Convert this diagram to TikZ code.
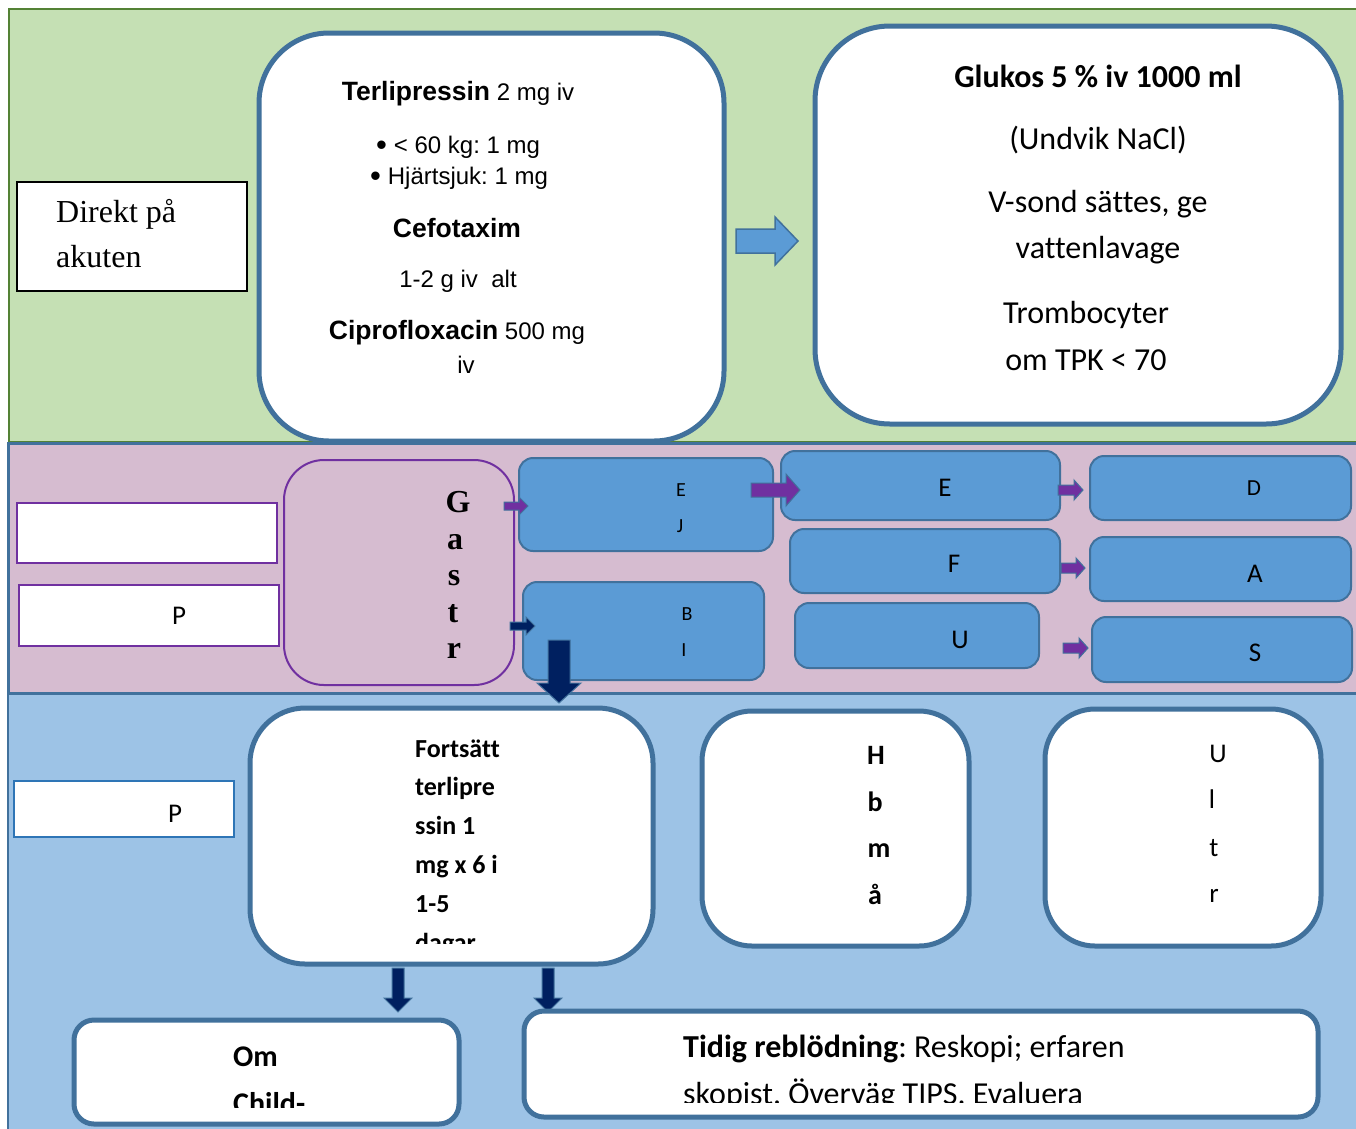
\documentclass[tikz,border=0pt]{standalone}
\usepackage{fontspec}
\setmainfont{Carlito}[Ligatures=NoCommon]
\newfontfamily\arialf{Liberation Sans}
\newfontfamily\tnrf{Liberation Serif}
\definecolor{bandgreen}{RGB}{197,224,180}
\definecolor{greenline}{RGB}{84,130,53}
\definecolor{bandpink}{RGB}{214,188,208}
\definecolor{bandblue}{RGB}{157,195,230}
\definecolor{boxblue}{RGB}{91,155,213}
\definecolor{edgeblue}{RGB}{65,113,156}
\definecolor{purp}{RGB}{112,48,160}
\definecolor{navy}{RGB}{0,32,96}
\definecolor{midblue}{RGB}{46,117,182}
\newcommand{\RArr}[7]{\filldraw[#7] (#1,{#3-#4}) -- ({#2-#6},{#3-#4}) -- ({#2-#6},{#3-#5}) -- (#2,#3) -- ({#2-#6},{#3+#5}) -- ({#2-#6},{#3+#4}) -- (#1,{#3+#4}) -- cycle;}
\newcommand{\DArr}[7]{\filldraw[#7] ({#1-#4},#2) -- ({#1-#4},{#3-#6}) -- ({#1-#5},{#3-#6}) -- (#1,#3) -- ({#1+#5},{#3-#6}) -- ({#1+#4},{#3-#6}) -- ({#1+#4},#2) -- cycle;}
\newcommand{\bA}{\bfseries\fontsize{26.5}{30}\selectfont}
\newcommand{\rA}{\mdseries\fontsize{24}{28}\selectfont}
\newcommand{\bigbul}{\raisebox{-2.5pt}{\fontsize{31}{28}\selectfont •}\hspace*{7pt}}
\tikzset{
  bigbox/.style={draw=edgeblue, line width=5pt, fill=white, rounded corners=#1, inner sep=0pt},
  bluebox/.style={draw=edgeblue, line width=2pt, fill=boxblue, rounded corners=14pt, inner sep=0pt},
  whitebox/.style={draw=purp, line width=2pt, fill=white, inner sep=0pt},
  tA/.style={font=\arialf\fontsize{24}{28}\selectfont, anchor=base, inner sep=0pt},
  tC/.style={font=\fontsize{32}{36}\selectfont, anchor=base, inner sep=0pt},
  tS/.style={font=\fontsize{27}{30}\selectfont, anchor=base, inner sep=0pt},
  tSs/.style={font=\fontsize{20}{22}\selectfont, anchor=base, inner sep=0pt},
  tB/.style={font=\bfseries\fontsize{26}{28}\selectfont, anchor=base west, inner sep=0pt},
  tH/.style={font=\bfseries\fontsize{28}{30}\selectfont, anchor=base, inner sep=0pt},
  tT/.style={font=\tnrf\fontsize{32}{34}\selectfont, anchor=base west, inner sep=0pt},
  tG/.style={font=\tnrf\bfseries\fontsize{32}{34}\selectfont, anchor=base, inner sep=0pt},
  purarrow/.style={fill=purp, draw=edgeblue, line width=1pt},
  navarrow/.style={fill=navy, draw=edgeblue, line width=1pt},
  bluearrow/.style={fill=boxblue, draw=edgeblue, line width=1.5pt}
}
\begin{document}
\frenchspacing
\begin{tikzpicture}[x=1pt,y=-1pt]
\useasboundingbox (0,0) rectangle (1356,1128);
% bands
\filldraw[fill=bandblue, draw=edgeblue, line width=2pt] (8,693) rectangle (1362,1134);
\filldraw[fill=bandpink, draw=edgeblue, line width=3pt] (8,443) rectangle (1362,693);
\filldraw[fill=bandgreen, draw=greenline, line width=2.5pt] (9,9) rectangle (1362,442);
\draw[edgeblue, line width=3pt] (8,443) -- (1362,443);

% ---------- top band
\node[draw=black, line width=2pt, fill=white, minimum width=230pt, minimum height=109pt] (direkt) at (132,236.5) {};
\node[tT] (direkt1) at (56,222) {Direkt på};
\node[tT] (direkt2) at (56,267) {akuten};

\node[bigbox=70pt, minimum width=465pt, minimum height=408pt] (terl) at (491.5,237) {};
\node[tA] (t1) at (458,100) {\bA Terlipressin\rA{} 2 mg iv};
\node[tA] (t2) at (458,153) {\bigbul{}< 60 kg: 1 mg};
\node[tA] (t3) at (459,184) {\bigbul{}Hjärtsjuk: 1 mg};
\node[tA] (t4) at (457,237) {\bA Cefotaxim};
\node[tA] (t5) at (458,287) {1-2 g iv\ \ alt};
\node[tA] (t6) at (457,339) {\bA Ciprofloxacin\rA{} 500 mg};
\node[tA] (t7) at (466,373) {iv};

\RArr{736}{798}{241}{12}{24}{23}{bluearrow}

\node[bigbox=75pt, minimum width=526pt, minimum height=398pt] (gluk) at (1078,225) {};
\node[tC] (g1) at (1098,87) {\bfseries Glukos 5 \% iv 1000 ml};
\node[tC] (g2) at (1098,149) {(Undvik NaCl)};
\node[tC] (g3) at (1098,212) {V-sond sättes, ge};
\node[tC] (g4) at (1098,258) {vattenlavage};
\node[tC] (g5) at (1086,323) {Trombocyter};
\node[tC] (g6) at (1086,370) {om TPK < 70};

% ---------- middle band
\node[whitebox, minimum width=260pt, minimum height=60pt] (w1) at (147,533) {};
\node[whitebox, minimum width=260pt, minimum height=61pt] (w2) at (149,615.5) {};
\node[tS] (w2t) at (179,624) {P};

\node[draw=purp, line width=2pt, rounded corners=40pt, minimum width=230pt, minimum height=225pt] (gastr) at (399,572.5) {};
\node[tG] (gG) at (458,512) {G};
\node[tG] (ga) at (455,549) {a};
\node[tG] (gs) at (454,585) {s};
\node[tG] (gt) at (453,622) {t};
\node[tG] (gr) at (454,658) {r};

\node[bluebox, minimum width=254pt, minimum height=93pt] (ej) at (646,504.5) {};
\node[tSs] (ejE) at (681,496) {E};
\node[tSs] (ejJ) at (680,532) {J};
\node[bluebox, minimum width=241pt, minimum height=98pt] (bi) at (643.5,631) {};
\node[tSs] (biB) at (687,620) {B};
\node[tSs] (biI) at (684,656) {I};

\node[bluebox, minimum width=279pt, minimum height=69pt] (e) at (920.5,485.5) {};
\node[tS] (et) at (945,496) {E};
\node[bluebox, minimum width=270pt, minimum height=64pt] (f) at (925,561) {};
\node[tS] (ft) at (954,572) {F};
\node[bluebox, minimum width=244pt, minimum height=65pt] (u) at (917,635.5) {};
\node[tS] (ut) at (960,648) {U};
\node[bluebox, minimum width=261pt, minimum height=64pt] (d) at (1220.5,488) {};
\node[tSs, font=\fontsize{23}{26}\selectfont] (dt) at (1254,495) {D};
\node[bluebox, minimum width=261pt, minimum height=64pt] (a) at (1220.5,569) {};
\node[tS] (at) at (1255,582) {A};
\node[bluebox, minimum width=260pt, minimum height=65pt] (s) at (1222,649.5) {};
\node[tS] (st) at (1255,661) {S};

\RArr{504}{528}{506}{4}{9}{9}{purarrow}
\RArr{510}{535}{626}{4}{9}{9}{navarrow}
\RArr{751}{800}{490}{7}{16}{14}{purarrow}
\RArr{1058}{1083}{490}{5}{10}{9}{purarrow}
\RArr{1061}{1085}{568}{5}{10}{9}{purarrow}
\RArr{1063}{1088}{648}{5}{10}{9}{purarrow}

% ---------- bottom band
\node[draw=midblue, line width=2pt, fill=white, minimum width=220pt, minimum height=56pt] (p3) at (124,809) {};
\node[tS] (p3t) at (175,822) {P};

\node[bigbox=55pt, minimum width=403pt, minimum height=256pt] (forts) at (451.5,836) {};
\begin{scope}
\clip (400,720) rectangle (640,943);
\node[tB] (f1) at (415,757) {Fortsätt};
\node[tB] (f2) at (415,795) {terlipre};
\node[tB] (f3) at (415,834) {ssin 1};
\node[tB] (f4) at (415,873) {mg x 6 i};
\node[tB] (f5) at (415,912) {1-5};
\node[tB] (f6) at (415,951) {dagar};
\end{scope}

\node[bigbox=50pt, minimum width=267pt, minimum height=235pt] (hb) at (835.5,828.5) {};
\node[tH] (h1) at (876,764) {H};
\node[tH] (h2) at (875,811) {b};
\node[tH] (h3) at (879,857) {m};
\node[tH] (h4) at (875,904) {å};

\node[bigbox=50pt, minimum width=276pt, minimum height=237pt] (ul) at (1183,827.5) {};
\node[tS] (u1) at (1218,762) {U};
\node[tS] (u2) at (1212,808) {l};
\node[tS] (u3) at (1214,856) {t};
\node[tS] (u4) at (1214,902) {r};

\DArr{559}{640}{703}{11}{22}{20}{navarrow}
\DArr{398}{968}{1012}{6}{14}{14}{navarrow}
\DArr{548}{968}{1012}{6}{14}{14}{navarrow}

\node[bigbox=20pt, minimum width=385pt, minimum height=104pt] (om) at (266.5,1072) {};
\begin{scope}
\clip (220,1030) rectangle (440,1107);
\node[tB, font=\bfseries\fontsize{30}{32}\selectfont] (o1) at (233,1066) {Om};
\node[tB, font=\bfseries\fontsize{30}{32}\selectfont] (o2) at (233,1113) {Child-};
\end{scope}

\node[bigbox=20pt, minimum width=794pt, minimum height=106pt] (tid) at (921,1064) {};
\begin{scope}
\clip (670,1020) rectangle (1300,1102);
\node[tB, font=\fontsize{32}{34}\selectfont] (ti1) at (683,1057) {\textbf{Tidig reblödning}: Reskopi; erfaren};
\node[tB, font=\fontsize{32}{34}\selectfont] (ti2) at (683,1104) {skopist. Överväg TIPS. Evaluera};
\end{scope}
\end{tikzpicture}
\end{document}
